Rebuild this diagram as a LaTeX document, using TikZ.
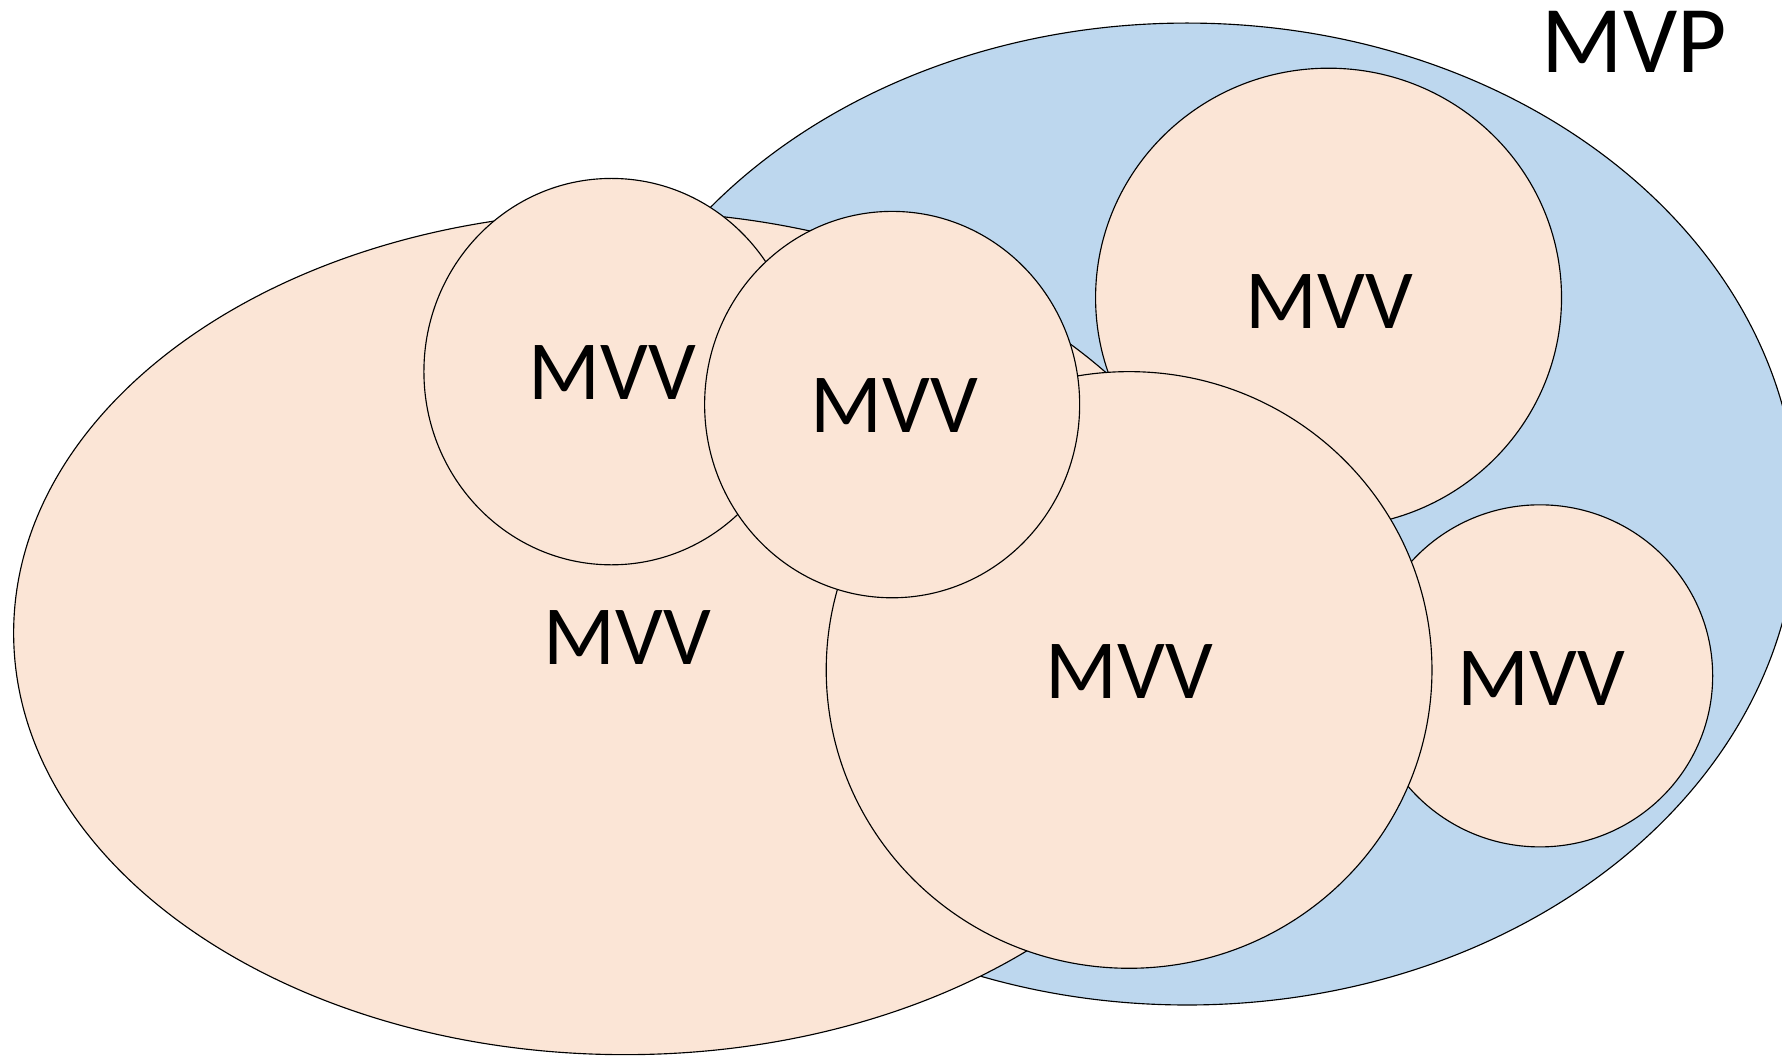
\documentclass[tikz,border=0pt]{standalone}
\usepackage{fontspec}
\setmainfont{Carlito}
\usetikzlibrary{shapes.geometric}
\definecolor{mvpblue}{HTML}{BDD7EE}
\definecolor{mvvpink}{HTML}{FBE5D6}
\tikzset{
  blob/.style={ellipse, draw=black, line width=0.5pt, inner sep=0pt},
  pinkblob/.style={blob, fill=mvvpink},
  blueblob/.style={blob, fill=mvpblue},
  lbl/.style={inner sep=0pt, font=\fontsize{37}{40}\selectfont},
  biglbl/.style={inner sep=0pt, font=\fontsize{42}{46}\selectfont}
}
\begin{document}
\begin{tikzpicture}[x=0.5pt,y=-0.5pt]
\useasboundingbox (0,0) rectangle (1568,930);
\clip (0,0) rectangle (1568,930);
\fill[white] (0,0) rectangle (1568,930);
% outer MVP ellipse
\node[blueblob, minimum width=537pt, minimum height=432pt] (mvp) at (1044.5,452.3) {};
% circles behind
\node[pinkblob, minimum width=205pt, minimum height=202pt] (c3) at (1169,262) {};
\node[pinkblob, minimum width=152pt, minimum height=150.5pt] (c5) at (1355,594.7) {};
% big pink ellipse
\node[pinkblob, minimum width=538pt, minimum height=371pt] (big) at (550,557) {};
% big circle
\node[pinkblob, minimum width=266.5pt, minimum height=262.5pt] (c4) at (993.5,589.5) {};
% two upper-left circles
\node[pinkblob, minimum width=165pt, minimum height=170pt] (c1) at (538,327) {};
\node[pinkblob, minimum width=165pt, minimum height=170pt] (c2) at (785,356) {};
% labels
\node[lbl] (tbig) at (552,561) {MVV};
\node[lbl] (t1) at (539,328) {MVV};
\node[lbl] (t2) at (787,357) {MVV};
\node[lbl] (t3) at (1170,265) {MVV};
\node[lbl] (t4) at (994,591) {MVV};
\node[lbl] (t5) at (1356,597) {MVV};
\node[biglbl] (tmvp) at (1438,37) {MVP};
\end{tikzpicture}
\end{document}
